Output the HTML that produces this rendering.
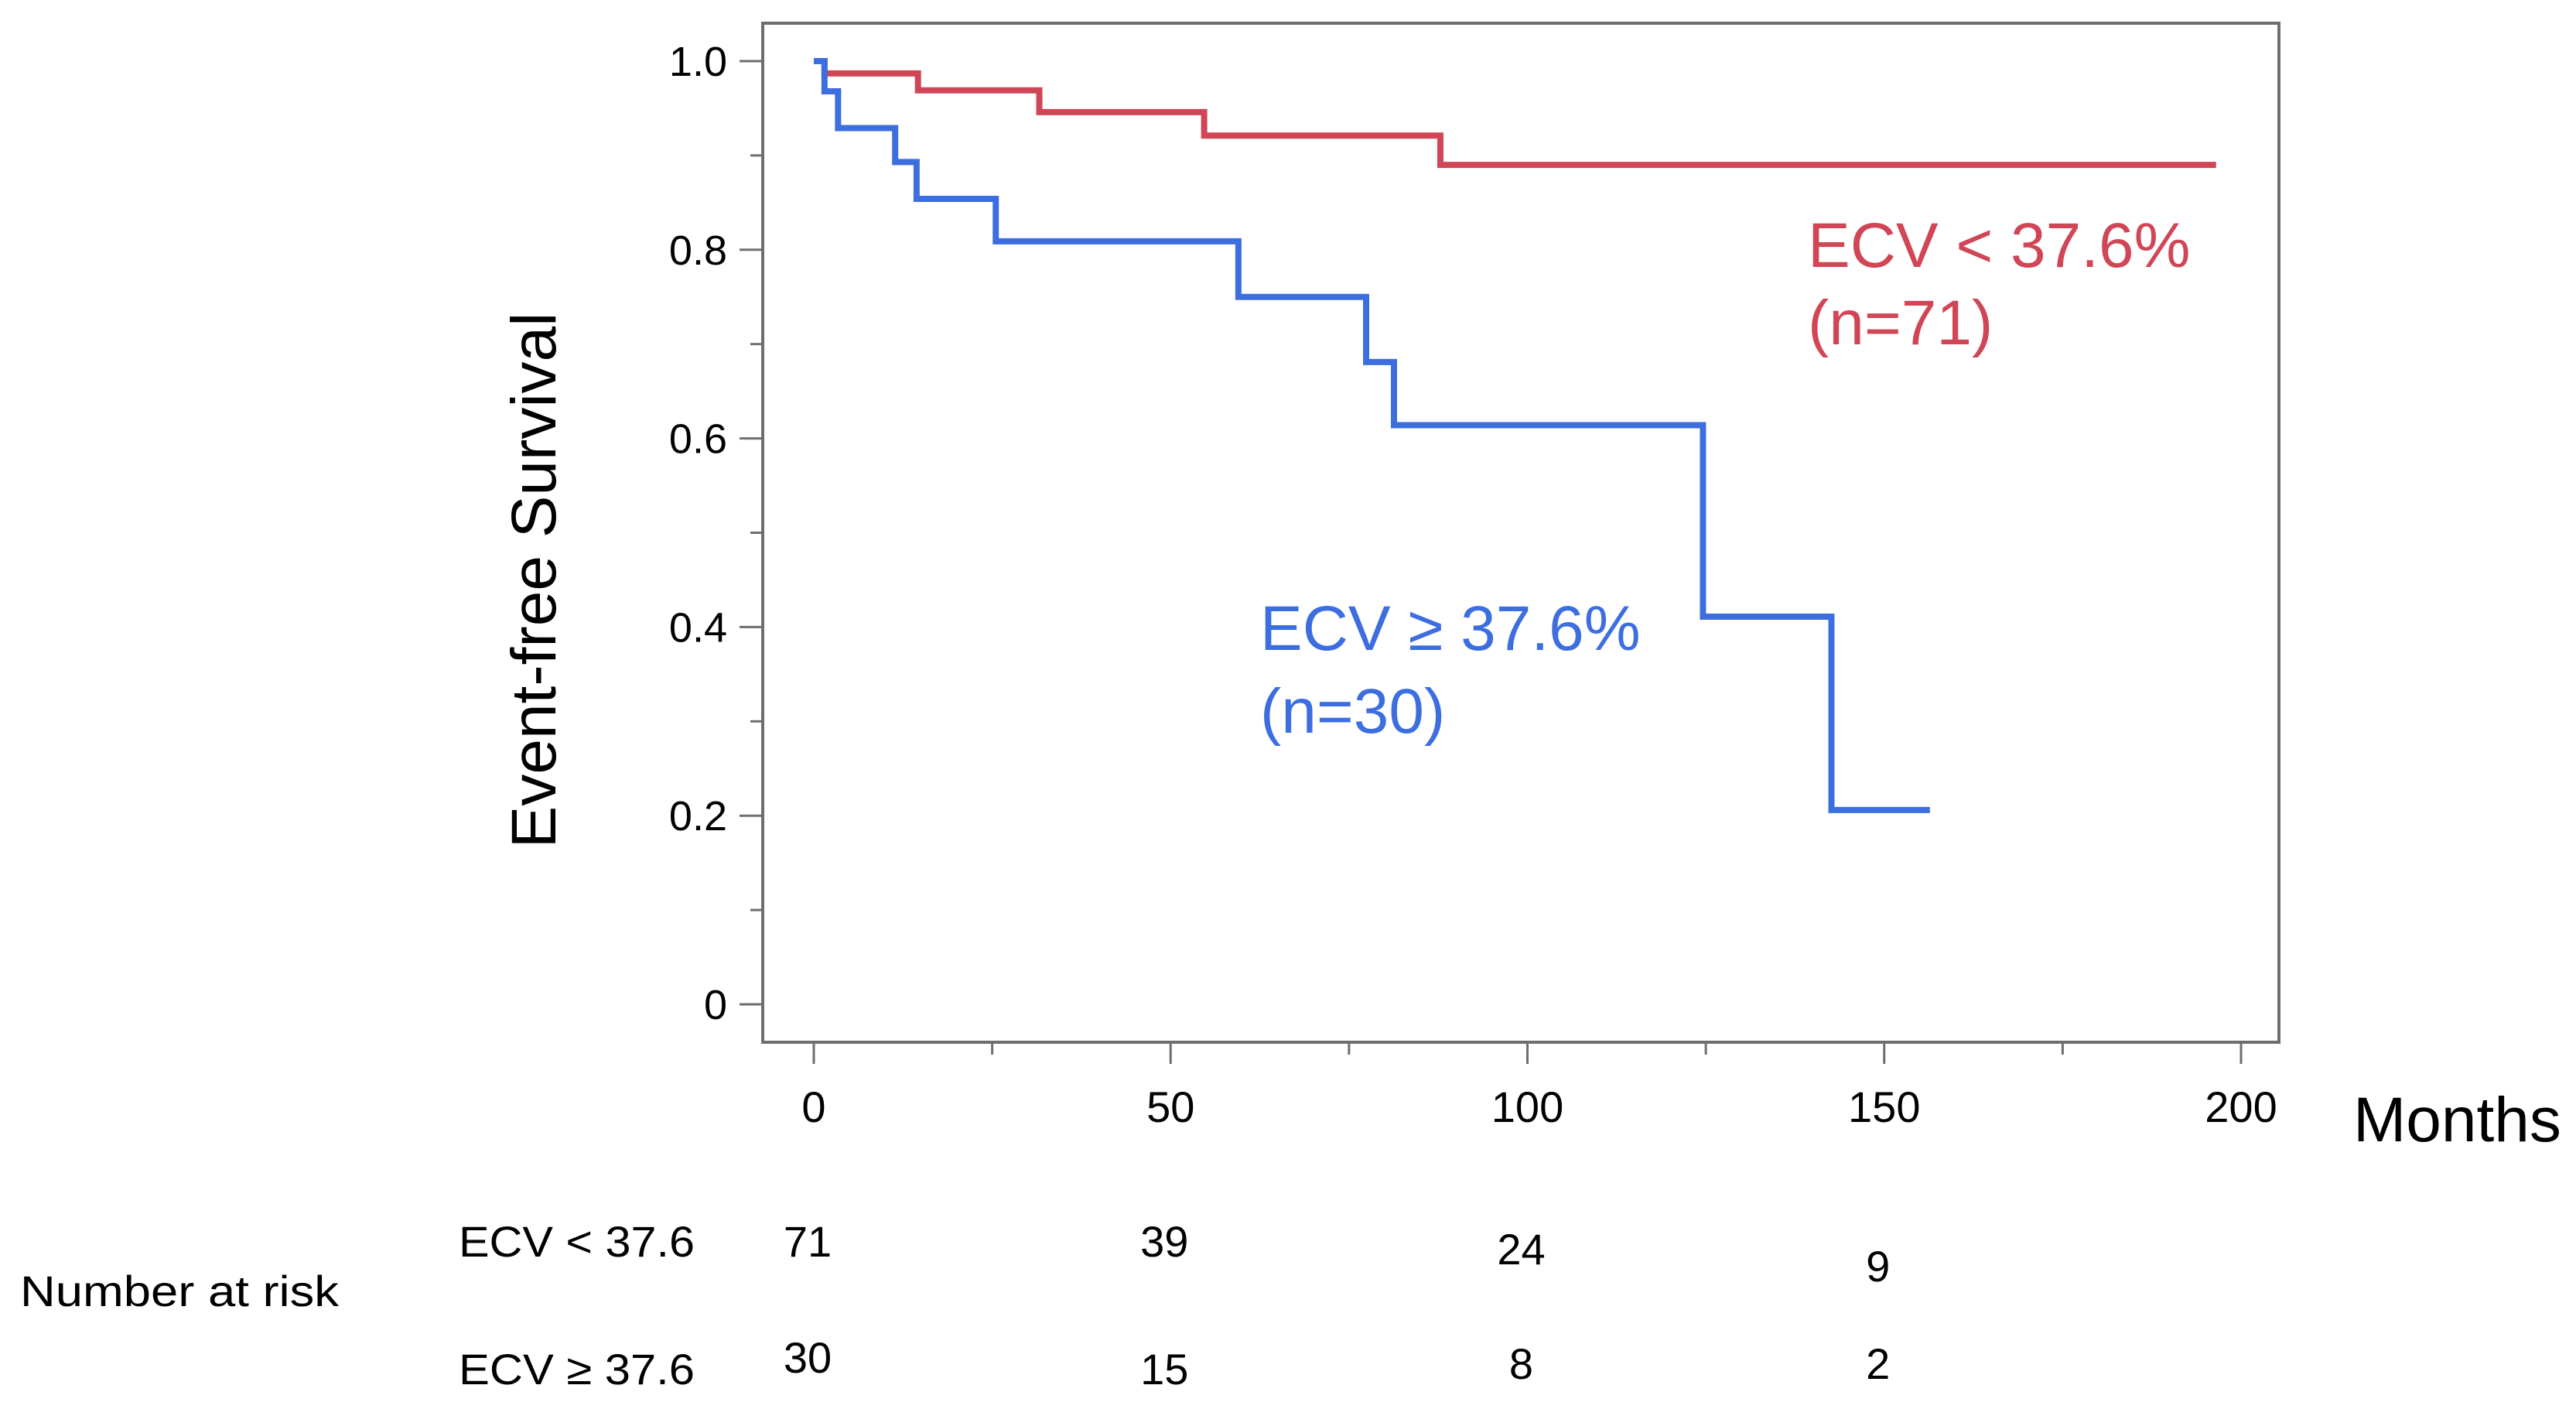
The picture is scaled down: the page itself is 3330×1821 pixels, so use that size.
<!DOCTYPE html>
<html><head><meta charset="utf-8"><style>
html,body{margin:0;padding:0;background:#fff;}
svg{display:block;font-family:"Liberation Sans",sans-serif;}
</style></head><body>
<svg id="chart" width="3330" height="1821" viewBox="0 0 3330 1821" xmlns="http://www.w3.org/2000/svg">
<rect x="986" y="30" width="1960" height="1317" fill="none" stroke="#6e6e6e" stroke-width="4"/>
<g id="yticks"></g><g id="xticks"></g>
<g id="series"></g>
<text transform="translate(718,750) rotate(-90)" text-anchor="middle" font-size="82" fill="#000">Event-free Survival</text>
<text x="3042" y="1475" font-size="82" fill="#000">Months</text>
<text x="2337" y="345" font-size="82" fill="#d04656">ECV &lt; 37.6%</text>
<text x="2337" y="445" font-size="82" fill="#d04656">(n=71)</text>
<text x="1629" y="840" font-size="82" fill="#3d6ee0">ECV ≥ 37.6%</text>
<text x="1629" y="947" font-size="82" fill="#3d6ee0">(n=30)</text>
<text x="26" y="1688" font-size="56" textLength="412" lengthAdjust="spacingAndGlyphs" fill="#000">Number at risk</text>
<text x="593" y="1624" font-size="56" textLength="305" lengthAdjust="spacingAndGlyphs" fill="#000">ECV &lt; 37.6</text>
<text x="593" y="1789" font-size="56" textLength="305" lengthAdjust="spacingAndGlyphs" fill="#000">ECV ≥ 37.6</text>
<g id="risk"></g>
</svg>
<script>
const xTicks=[0,50,100,150,200];
const yTicks=[0,0.2,0.4,0.6,0.8,1.0];
const yTickLabels=["0","0.2","0.4","0.6","0.8","1.0"];
const redTimes=[0,1.5,14.6,31.6,54.7,87.8,196.5];
const redSurv=[1.0,0.987,0.969,0.946,0.921,0.89,0.89];
const blueTimes=[0,1.5,3.4,11.4,14.4,25.5,59.5,77.4,81.3,124.6,142.6,156.4];
const blueSurv=[1.0,0.968,0.929,0.893,0.854,0.809,0.75,0.681,0.614,0.411,0.206,0.206];
const riskTimes=[0,50,100,150];
const riskLow=[71,39,24,9];
const riskHigh=[30,15,8,2];
const riskLowDy=[0,0,10,32];
const riskHighDy=[-15,0,-7,-7];
const NS="http://www.w3.org/2000/svg";
const X=m=>1052+m*(2897-1052)/200;
const Y=v=>1298-v*(1298-79);
function mk(tag,attrs,parent){const e=document.createElementNS(NS,tag);for(const k in attrs)e.setAttribute(k,attrs[k]);parent.appendChild(e);return e;}
const yg=document.getElementById('yticks');
for(let v=0;v<=10;v++){const val=v/10;const major=v%2===0;
 const t=mk('line',{x1:986-(major?30:16),x2:986,y1:Y(val),y2:Y(val),stroke:'#6e6e6e','stroke-width':3},yg);
 
 }
yTicks.forEach((v,i)=>{const t=mk('text',{x:940,y:Y(v)+19,'text-anchor':'end','font-size':54,fill:'#000'},yg);t.textContent=yTickLabels[i];
 
 });
const xg=document.getElementById('xticks');
for(let m=0;m<=200;m+=25){const major=m%50===0;
 const t=mk('line',{x1:X(m),x2:X(m),y1:1347,y2:1347+(major?28:16),stroke:'#6e6e6e','stroke-width':3},xg);
 
 }
xTicks.forEach(m=>{const t=mk('text',{x:X(m),y:1450,'text-anchor':'middle','font-size':56,fill:'#000'},xg);t.textContent=String(m);
 
 });
function step(times,surv){let d='M'+X(times[0])+','+Y(surv[0]);for(let i=1;i<times.length;i++){d+=' H'+X(times[i])+' V'+Y(surv[i]);}return d;}
const sg=document.getElementById('series');
const r=mk('path',{d:step(redTimes,redSurv),fill:'none',stroke:'#d04656','stroke-width':8},sg);


const b=mk('path',{d:step(blueTimes,blueSurv),fill:'none',stroke:'#3d6ee0','stroke-width':8},sg);


const rg=document.getElementById('risk');
riskTimes.forEach((m,i)=>{
 const a=mk('text',{x:X(m)-8,y:1624+riskLowDy[i],'text-anchor':'middle','font-size':56,fill:'#000'},rg);a.textContent=riskLow[i];
 
 
 const c=mk('text',{x:X(m)-8,y:1789+riskHighDy[i],'text-anchor':'middle','font-size':56,fill:'#000'},rg);c.textContent=riskHigh[i];
 
 
});
</script>
</body></html>
